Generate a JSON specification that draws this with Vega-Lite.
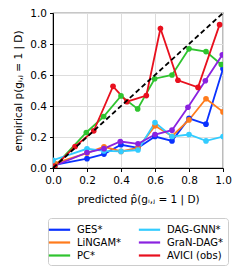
{
  "$schema": "https://vega.github.io/schema/vega-lite/v6.json",
  "autosize": {"type": "none"},
  "width": 170,
  "height": 155,
  "padding": {"left": 53, "top": 13, "right": 18, "bottom": 99},
  "config": {
    "font": "DejaVu Sans",
    "view": {"stroke": "#222222", "strokeWidth": 1.2},
    "axis": {
      "labelFont": "DejaVu Sans", "titleFont": "DejaVu Sans",
      "labelFontSize": 10.5, "titleFontSize": 10.5,
      "labelColor": "#000000", "titleColor": "#000000",
      "titleFontWeight": "normal", "labelOverlap": false, "labelFlush": false,
      "gridColor": "#dddddd", "gridWidth": 1,
      "domainColor": "#000000", "tickColor": "#000000",
      "tickSize": 3.5
    }
  },
  "datasets": {
    "series": [
      {"method": "GES*", "x": 0.01, "y": 0.02},
      {"method": "GES*", "x": 0.2, "y": 0.06},
      {"method": "GES*", "x": 0.3, "y": 0.09},
      {"method": "GES*", "x": 0.4, "y": 0.15},
      {"method": "GES*", "x": 0.5, "y": 0.13},
      {"method": "GES*", "x": 0.6, "y": 0.203},
      {"method": "GES*", "x": 0.7, "y": 0.175},
      {"method": "GES*", "x": 0.8, "y": 0.32},
      {"method": "GES*", "x": 0.9, "y": 0.283},
      {"method": "GES*", "x": 1.0, "y": 0.641},
      {"method": "LiNGAM*", "x": 0.01, "y": 0.03},
      {"method": "LiNGAM*", "x": 0.2, "y": 0.096},
      {"method": "LiNGAM*", "x": 0.3, "y": 0.137},
      {"method": "LiNGAM*", "x": 0.4, "y": 0.107},
      {"method": "LiNGAM*", "x": 0.5, "y": 0.13},
      {"method": "LiNGAM*", "x": 0.6, "y": 0.272},
      {"method": "LiNGAM*", "x": 0.7, "y": 0.205},
      {"method": "LiNGAM*", "x": 0.8, "y": 0.31},
      {"method": "LiNGAM*", "x": 0.9, "y": 0.447},
      {"method": "LiNGAM*", "x": 1.0, "y": 0.362},
      {"method": "PC*", "x": 0.01, "y": 0.01},
      {"method": "PC*", "x": 0.196, "y": 0.229},
      {"method": "PC*", "x": 0.298, "y": 0.332},
      {"method": "PC*", "x": 0.4, "y": 0.465},
      {"method": "PC*", "x": 0.498, "y": 0.381},
      {"method": "PC*", "x": 0.598, "y": 0.576},
      {"method": "PC*", "x": 0.7, "y": 0.6},
      {"method": "PC*", "x": 0.8, "y": 0.769},
      {"method": "PC*", "x": 0.9, "y": 0.751},
      {"method": "PC*", "x": 0.99, "y": 0.668},
      {"method": "DAG-GNN*", "x": 0.0, "y": 0.05},
      {"method": "DAG-GNN*", "x": 0.2, "y": 0.124},
      {"method": "DAG-GNN*", "x": 0.3, "y": 0.11},
      {"method": "DAG-GNN*", "x": 0.4, "y": 0.107},
      {"method": "DAG-GNN*", "x": 0.5, "y": 0.116},
      {"method": "DAG-GNN*", "x": 0.6, "y": 0.293},
      {"method": "DAG-GNN*", "x": 0.7, "y": 0.203},
      {"method": "DAG-GNN*", "x": 0.8, "y": 0.216},
      {"method": "DAG-GNN*", "x": 0.9, "y": 0.175},
      {"method": "DAG-GNN*", "x": 1.0, "y": 0.203},
      {"method": "GraN-DAG*", "x": 0.0, "y": 0.01},
      {"method": "GraN-DAG*", "x": 0.2, "y": 0.1},
      {"method": "GraN-DAG*", "x": 0.3, "y": 0.125},
      {"method": "GraN-DAG*", "x": 0.396, "y": 0.171},
      {"method": "GraN-DAG*", "x": 0.5, "y": 0.156},
      {"method": "GraN-DAG*", "x": 0.6, "y": 0.216},
      {"method": "GraN-DAG*", "x": 0.7, "y": 0.244},
      {"method": "GraN-DAG*", "x": 0.794, "y": 0.392},
      {"method": "GraN-DAG*", "x": 0.896, "y": 0.563},
      {"method": "GraN-DAG*", "x": 0.996, "y": 0.73},
      {"method": "AVICI (obs)", "x": 0.01, "y": 0.01},
      {"method": "AVICI (obs)", "x": 0.13, "y": 0.139},
      {"method": "AVICI (obs)", "x": 0.24, "y": 0.24},
      {"method": "AVICI (obs)", "x": 0.353, "y": 0.527},
      {"method": "AVICI (obs)", "x": 0.435, "y": 0.428},
      {"method": "AVICI (obs)", "x": 0.549, "y": 0.467},
      {"method": "AVICI (obs)", "x": 0.632, "y": 0.9},
      {"method": "AVICI (obs)", "x": 0.735, "y": 0.566},
      {"method": "AVICI (obs)", "x": 0.853, "y": 0.52},
      {"method": "AVICI (obs)", "x": 0.98, "y": 0.925}
    ],
    "diag": [{"x": 0, "y": 0}, {"x": 1, "y": 1}]
  },
  "encoding": {
    "x": {"field": "x", "type": "quantitative", "scale": {"domain": [0, 1], "nice": false},
          "axis": {"values": [0, 0.2, 0.4, 0.6, 0.8, 1], "tickCount": 6, "format": ".1f", "labelOverlap": false, "title": "predicted p̂(gᵢ,ⱼ = 1 | D)", "labelPadding": 4, "titlePadding": 8}},
    "y": {"field": "y", "type": "quantitative", "scale": {"domain": [0, 1], "nice": false},
          "axis": {"values": [0, 0.2, 0.4, 0.6, 0.8, 1], "tickCount": 6, "format": ".1f", "labelOverlap": false, "title": "empirical p(gᵢ,ⱼ = 1 | D)", "labelPadding": 3, "titlePadding": 6}}
  },
  "layer": [
    {
      "data": {"name": "series"},
      "mark": {"type": "line", "strokeWidth": 1.8, "clip": true},
      "encoding": {
        "color": {"field": "method", "type": "nominal",
          "scale": {
            "domain": ["GES*", "LiNGAM*", "PC*", "DAG-GNN*", "GraN-DAG*", "AVICI (obs)"],
            "range": ["#0a32ff", "#ff7b1c", "#2fc42f", "#33ccff", "#8a22e0", "#e8101e"]
          },
          "legend": {
            "title": null, "orient": "none", "legendX": -5, "legendY": 205,
            "columns": 2, "columnPadding": 12, "rowPadding": 0,
            "symbolType": "M-1.8,0H1.8", "symbolSize": 140, "symbolStrokeWidth": 2.2,
            "labelFontSize": 10, "labelFont": "DejaVu Sans", "labelColor": "#000000",
            "labelOffset": 10,
            "strokeColor": "#cccccc", "cornerRadius": 3, "padding": 4,
            "labelLimit": 80
          }
        },
        "detail": {"field": "method"}
      }
    },
    {
      "data": {"name": "series"},
      "mark": {"type": "point", "filled": true, "opacity": 1, "size": 32, "clip": true},
      "encoding": {
        "color": {"field": "method", "type": "nominal", "legend": null}
      }
    },
    {
      "data": {"name": "diag"},
      "mark": {"type": "line", "color": "#000000", "strokeWidth": 1.8, "strokeDash": [5, 3]},
      "encoding": {}
    }
  ]
}
